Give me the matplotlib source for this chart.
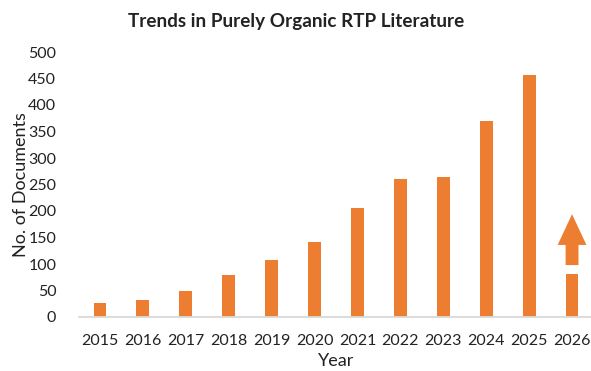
import matplotlib
matplotlib.use("Agg")
import matplotlib.pyplot as plt
from matplotlib.patches import Polygon

years = ["2015", "2016", "2017", "2018", "2019", "2020", "2021", "2022", "2023", "2024", "2025", "2026"]
documents = [26, 33, 50, 79, 107, 141, 206, 260, 264, 369, 457]
# 2026 projection marker: stub top, gap top, head base, head tip
projection = [81, 98, 136, 194]

ORANGE = "#ED7D31"
TEXT = "#222222"

plt.rcParams["font.family"] = ["Lato", "DejaVu Sans"]

fig = plt.figure(figsize=(5.91, 3.71), dpi=100)
ax = fig.add_axes([78.5 / 591, 54 / 371, 515 / 591, 265 / 371])

x = list(range(len(years)))
ax.bar(x[:len(documents)], documents, width=0.3, color=ORANGE, zorder=2)

# upward arrow for the running year
i = len(documents)
ax.bar(i, projection[0], width=0.3, color=ORANGE, zorder=2)
sw, hw = 0.15, 0.335
arrow = Polygon([(i - sw, projection[1]), (i + sw, projection[1]),
                 (i + sw, projection[2]), (i + hw, projection[2]),
                 (i, projection[3]), (i - hw, projection[2]),
                 (i - sw, projection[2])],
                closed=True, color=ORANGE, lw=0, zorder=2)
ax.add_patch(arrow)

ax.set_xlim(-0.5, len(years) - 0.5)
ax.set_ylim(0, 500)
ax.set_xticks(x)
ax.set_xticklabels(years)
ax.set_yticks(range(0, 501, 50))

for s in ["top", "right", "left"]:
    ax.spines[s].set_visible(False)
ax.spines["bottom"].set_color("#D9D9D9")
ax.spines["bottom"].set_linewidth(1.3)

ax.tick_params(axis="both", length=0, labelsize=11.5, labelcolor=TEXT)
ax.tick_params(axis="y", pad=16)
ax.tick_params(axis="x", pad=12)

ax.set_ylabel("No. of Documents", fontsize=13, color=TEXT)
ax.yaxis.set_label_coords(-0.096, 0.5)
ax.set_xlabel("Year", fontsize=13, color=TEXT, labelpad=4)
fig.text(296 / 591, 1 - 22 / 371, "Trends in Purely Organic RTP Literature",
         ha="center", va="center", fontsize=13.6, fontweight="bold", color=TEXT)

fig.savefig("out.png", dpi=100)
